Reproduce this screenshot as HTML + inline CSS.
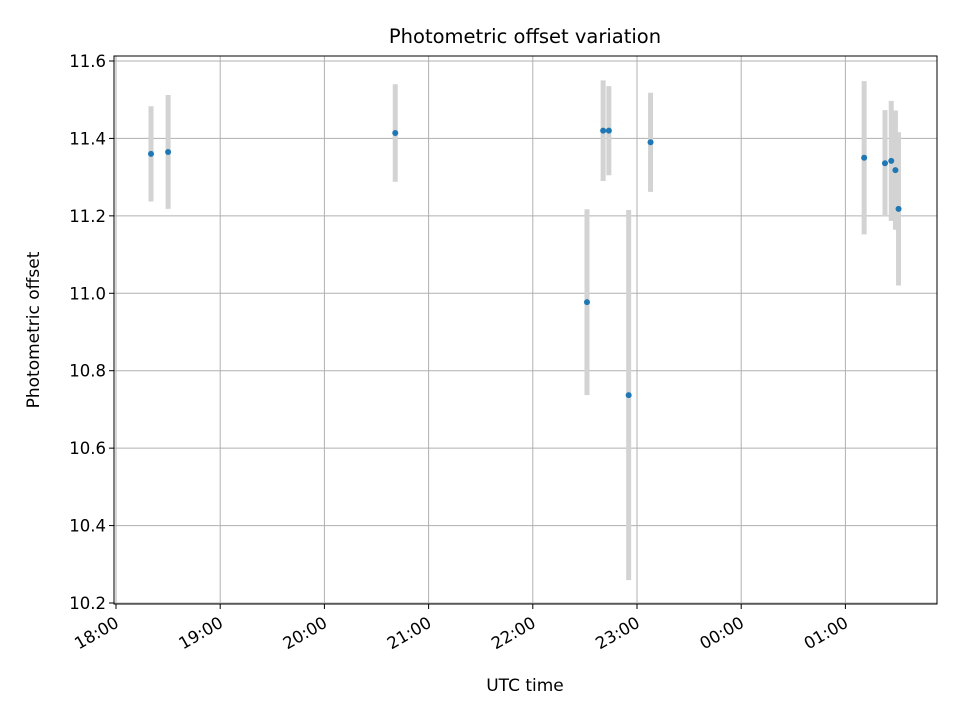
<!DOCTYPE html>
<html><head><meta charset="utf-8">
<style>
body{margin:0;background:#fff;}
svg text{font-family:"DejaVu Sans","Liberation Sans",sans-serif;fill:#000;}
</style></head>
<body>
<svg id="chart" width="960" height="720" xmlns="http://www.w3.org/2000/svg">
<rect x="0" y="0" width="960" height="720" fill="#fff"/>
<text x="525" y="43" text-anchor="middle" font-size="19.5">Photometric offset variation</text>
<text x="525" y="691" text-anchor="middle" font-size="17">UTC time</text>
<text transform="translate(39,330) rotate(-90)" text-anchor="middle" font-size="17">Photometric offset</text>
<g id="grid"></g>
<g id="errs"></g>
<g id="pts"></g>
<g id="axes"></g>
</svg>
<script>
// hours since 18:00 baseline (values > 24 are after midnight)
const times = [18.336, 18.5, 20.68, 22.52, 22.675, 22.73, 22.92, 23.13, 25.18, 25.38, 25.44, 25.48, 25.51];
const offsets = [11.36, 11.365, 11.414, 10.977, 11.42, 11.42, 10.737, 11.39, 11.35, 11.336, 11.342, 11.318, 11.218];
const errors = [0.123, 0.147, 0.126, 0.24, 0.13, 0.115, 0.478, 0.128, 0.198, 0.137, 0.155, 0.154, 0.198];
const yTicks = [10.2, 10.4, 10.6, 10.8, 11.0, 11.2, 11.4, 11.6];
const xTicks = [18, 19, 20, 21, 22, 23, 24, 25];
const xTickLabels = ["18:00","19:00","20:00","21:00","22:00","23:00","00:00","01:00"];

const L=114,R=937,T=56,B=604;
const NS="http://www.w3.org/2000/svg";
function xs(h){return 116+(h-18)*104.2;}
function ys(v){return 603-(v-10.2)*387.15;}
function mk(tag,attrs,parent){const e=document.createElementNS(NS,tag);for(const k in attrs)e.setAttribute(k,attrs[k]);parent.appendChild(e);return e;}
const grid=document.getElementById('grid'),errs=document.getElementById('errs'),pts=document.getElementById('pts'),axes=document.getElementById('axes');

yTicks.forEach((v,i)=>{
  const y=ys(v);
  const g=mk('line',{x1:L,x2:R,y1:y,y2:y,stroke:'#b0b0b0','stroke-width':1},grid);
  
  
  mk('line',{x1:L-5,x2:L,y1:y,y2:y,stroke:'#000','stroke-width':1},axes);
  const t=mk('text',{x:L-8,y:y+6,'text-anchor':'end','font-size':'16.5'},axes);
  t.textContent=v.toFixed(1);
  
  
});
xTicks.forEach((h,i)=>{
  const x=xs(h);
  const g=mk('line',{x1:x,x2:x,y1:T,y2:B,stroke:'#b0b0b0','stroke-width':1},grid);
  
  
  mk('line',{x1:x,x2:x,y1:B,y2:B+5,stroke:'#000','stroke-width':1},axes);
  const t=mk('text',{x:x+4,y:B+22,'text-anchor':'end','font-size':'16.5',transform:`rotate(-30 ${x+4} ${B+22})`},axes);
  t.textContent=xTickLabels[i];
  
  
});
const frame=mk('rect',{x:L,y:T,width:R-L,height:B-T,fill:'none',stroke:'#000','stroke-width':1},axes);



times.forEach((h,i)=>{
  const x=xs(h);
  const e=mk('line',{x1:x,x2:x,y1:ys(offsets[i]+errors[i]),y2:ys(offsets[i]-errors[i]),stroke:'#d3d3d3','stroke-width':5},errs);
  
  
  const c=mk('circle',{cx:x,cy:ys(offsets[i]),r:3,fill:'#1f77b4'},pts);
  
  
});
</script>
</body></html>
